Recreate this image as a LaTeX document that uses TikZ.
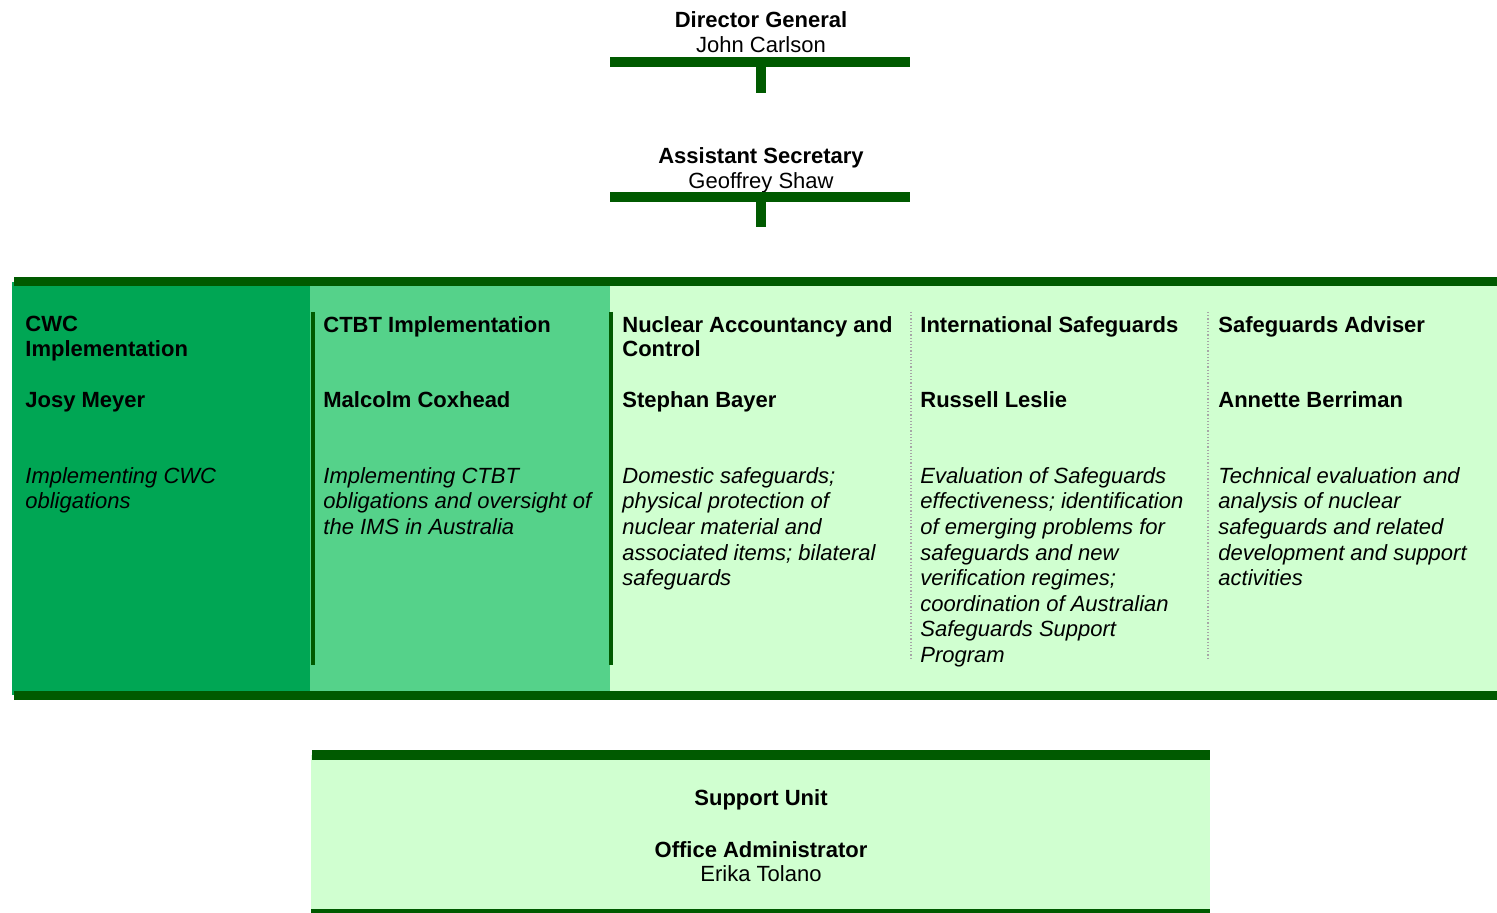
\documentclass[tikz,border=0pt]{standalone}
\usepackage{fontspec}
\setmainfont{Liberation Sans}
\usetikzlibrary{positioning}
\definecolor{orgdark}{RGB}{0,90,0}
\definecolor{cwcfill}{RGB}{0,166,84}
\definecolor{ctbtfill}{RGB}{85,210,138}
\definecolor{palefill}{RGB}{208,255,208}

\begin{document}
\begin{tikzpicture}[x=0.5pt, y=-0.5pt,
    every node/.style={font=\fontsize{11}{12.75}\selectfont, inner sep=0pt},
    head/.style={align=center, anchor=north},
    unittitle/.style={align=left, anchor=north west, font=\fontsize{11}{12.25}\selectfont\bfseries},
    person/.style={anchor=base west, font=\fontsize{11}{12.75}\selectfont\bfseries},
    duty/.style={align=left, anchor=north west, font=\fontsize{11}{12.8}\selectfont\itshape},
    bar/.style={line width=5pt, orgdark},
    band/.style={line width=4.5pt, orgdark},
    divider/.style={line width=2.25pt, orgdark},
    cellrule/.style={gray!70, densely dotted, line width=0.6pt}
]
\useasboundingbox (0,0) rectangle (1497,913);

% Director General
\node[head] (dg) at (761,11) {\textbf{Director General}\\John Carlson};
\draw[bar] (610,62) coordinate (dgl) -- (910,62) coordinate (dgr);
\coordinate (dgmid) at (761,62);
\coordinate (dgend) at (761,93);
\draw[bar] (dgmid) -- (dgend);

% Assistant Secretary
\node[head] (as) at (761,147) {\textbf{Assistant Secretary}\\Geoffrey Shaw};
\draw[bar] (610,197) coordinate (asl) -- (910,197) coordinate (asr);
\coordinate (asmid) at (761,197);
\coordinate (asend) at (761,227);
\draw[bar] (asmid) -- (asend);

% Section band
\fill[cwcfill] (12,282) rectangle (310,695);
\fill[ctbtfill] (310,282) rectangle (610,695);
\fill[palefill] (610,282) rectangle (1497,695);
\draw[band] (14,282) -- (1497,282);
\draw[band] (14,695) -- (1497,695);
\draw[divider] (313,312) -- (313,665);
\draw[divider] (611,312) -- (611,665);
\draw[cellrule] (911,312) -- (911,660);
\draw[cellrule] (1208,312) -- (1208,660);

% CWC
\node[unittitle] (cwc) at (25,316) {CWC\\Implementation};
\node[person] (cwcname) at (25,408) {Josy Meyer};
\node[duty] (cwcduty) at (25,467) {Implementing CWC\\obligations};

% CTBT
\node[unittitle] (ctbt) at (323,316) {CTBT Implementation};
\node[person] (ctbtname) at (323,408) {Malcolm Coxhead};
\node[duty] (ctbtduty) at (323,467) {Implementing CTBT\\obligations and oversight of\\the IMS in Australia};

% Nuclear accountancy
\node[unittitle] (nac) at (622,316) {Nuclear Accountancy and\\Control};
\node[person] (nacname) at (622,408) {Stephan Bayer};
\node[duty] (nacduty) at (622,467) {Domestic safeguards;\\physical protection of\\nuclear material and\\associated items; bilateral\\safeguards};

% International safeguards
\node[unittitle] (isg) at (920,316) {International Safeguards};
\node[person] (isgname) at (920,408) {Russell Leslie};
\node[duty] (isgduty) at (920,467) {Evaluation of Safeguards\\effectiveness; identification\\of emerging problems for\\safeguards and new\\verification regimes;\\coordination of Australian\\Safeguards Support\\Program};

% Safeguards adviser
\node[unittitle] (sga) at (1218,316) {Safeguards Adviser};
\node[person] (sganame) at (1218,408) {Annette Berriman};
\node[duty] (sgaduty) at (1218,467) {Technical evaluation and\\analysis of nuclear\\safeguards and related\\development and support\\activities};

% Support unit
\fill[palefill] (311,755) rectangle (1210,911);
\draw[bar] (312,755) -- (1210,755);
\draw[orgdark, line width=2pt] (311,911) -- (1210,911);
\node[head, anchor=base] (support) at (761,805) {\textbf{Support Unit}};
\node[head, font=\fontsize{11}{12}\selectfont] (admin) at (761,841) {\textbf{Office Administrator}\\Erika Tolano};
\end{tikzpicture}
\end{document}
